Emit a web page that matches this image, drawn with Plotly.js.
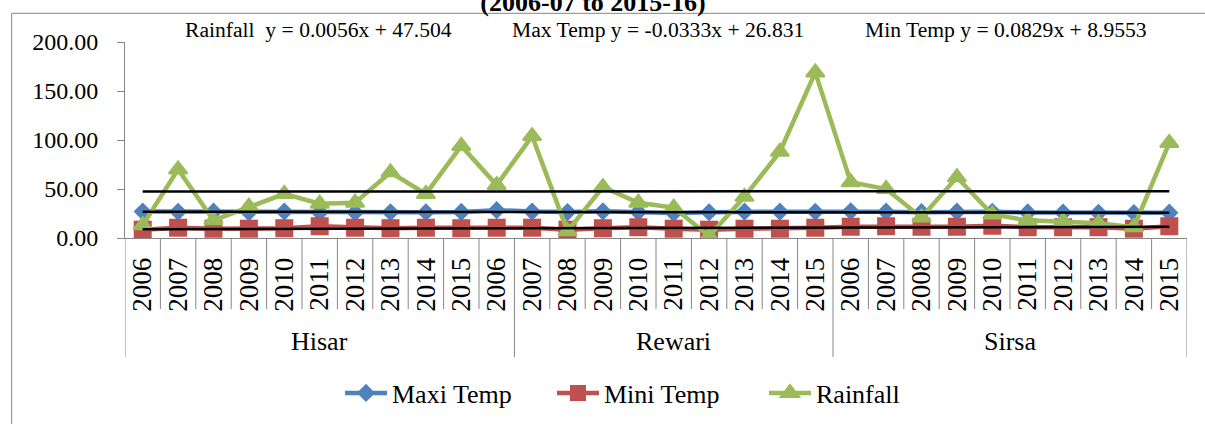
<!DOCTYPE html>
<html><head><meta charset="utf-8">
<script src="https://cdn.plot.ly/plotly-3.0.1.min.js"></script>
<style>html,body{margin:0;padding:0;background:#fff;}#chart{width:1205px;height:424px;}</style>
</head><body><div id="chart"></div>
<script>
// ---- data ----
const districts = ['Hisar', 'Rewari', 'Sirsa'];
const districtSizes = [11, 9, 10];
const yearLabels = ['2006','2007','2008','2009','2010','2011','2012','2013','2014','2015','2006',
                    '2007','2008','2009','2010','2011','2012','2013','2014','2015',
                    '2006','2007','2008','2009','2010','2011','2012','2013','2014','2015'];
const maxiTemp = [27.0,26.8,26.9,26.2,27.0,26.0,26.0,26.3,26.3,26.6,28.4,
                  27.0,26.5,27.2,26.5,25.4,26.3,26.9,26.9,26.8,
                  27.3,26.9,26.4,26.9,26.8,26.1,25.9,25.7,25.5,25.8];
const miniTemp = [8.5,10.5,9.5,9.5,10.0,12.0,10.5,10.0,10.5,10.0,10.5,
                  10.5,8.5,10.0,11.0,9.5,8.5,9.5,9.5,10.5,
                  11.5,12.0,11.5,11.5,12.5,11.0,11.0,11.0,9.5,12.0];
const rainfall = [13,70,18,32,45,35,36,67,45,94,54,
                  104,7,52,36,31,2,42,88,169,
                  57,50,21,62,24,18,17,15,11,97];
const trendLabels = ['Rainfall&nbsp; y = ', 'Max Temp y = ', 'Min Temp y = '];
const trendSlopes = [0.0056, -0.0333, 0.0829];
const trendIntercepts = [47.504, 26.831, 8.9553];
const yTicks = [0, 50, 100, 150, 200];
const chartTitle = '(2006-07 to 2015-16)';

// ---- geometry ----
const W = 1205, H = 424, L = 125, R = 18, T = 42, B = 186;
const pw = W - L - R, ph = H - T - B;
const px2x = p => (p - L) / pw;
const py2y = p => (H - B - p) / ph;
const FONT = '"Liberation Serif", "Times New Roman", Times, serif';
const AX = '#868686';

const xs = yearLabels.map((_, i) => i + 1);
const n = xs.length;

const traces = [
  {x: xs, y: maxiTemp, name: 'Maxi Temp', type: 'scatter', mode: 'lines+markers',
   line: {color: '#4F81BD', width: 4.5}, marker: {symbol: 'diamond', size: 14, color: '#4F81BD'}},
  {x: xs, y: miniTemp, name: 'Mini Temp', type: 'scatter', mode: 'lines+markers',
   line: {color: '#C0504D', width: 4.5}, marker: {symbol: 'square', size: 18, color: '#C0504D'}},
  {x: xs, y: rainfall, name: 'Rainfall', type: 'scatter', mode: 'lines+markers',
   line: {color: '#9BBB59', width: 4.5},
   marker: {symbol: 'triangle-up', size: 16, color: '#9BBB59', line: {color: '#9BBB59', width: 2}}}
];
trendSlopes.forEach((m, k) => {
  const b = trendIntercepts[k];
  traces.push({x: [xs[0], xs[n - 1]], y: [b + m * xs[0], b + m * xs[n - 1]], type: 'scatter', mode: 'lines',
    line: {color: '#000000', width: 2.5}, showlegend: false, hoverinfo: 'skip'});
});

// ---- shapes: category separators and group brackets ----
const shapes = [];
const groupEdges = [0];
districtSizes.forEach(s => groupEdges.push(groupEdges[groupEdges.length - 1] + s));
for (let k = 0; k <= n; k++) {
  const isGroup = groupEdges.indexOf(k) >= 0;
  shapes.push({type: 'line', xref: 'x', yref: 'paper', x0: k + 0.5, x1: k + 0.5,
    y0: 0, y1: py2y(isGroup ? 357 : 309), line: {color: AX, width: 1}});
}
// outer chart frame
shapes.push({type: 'rect', xref: 'paper', yref: 'paper', x0: px2x(11.7), x1: px2x(1220),
  y0: py2y(440), y1: py2y(13.3), line: {color: AX, width: 1}, layer: 'below'});

// ---- annotations ----
const annotations = [];
districts.forEach((d, g) => {
  annotations.push({text: d, xref: 'x', yref: 'paper', x: (groupEdges[g] + groupEdges[g + 1]) / 2 + 0.5,
    y: py2y(341), showarrow: false, xanchor: 'center', yanchor: 'middle',
    font: {family: FONT, size: 26, color: '#000'}});
});
const eqX = [183, 510, 863];
trendLabels.forEach((t, k) => {
  annotations.push({text: t + trendSlopes[k] + 'x + ' + trendIntercepts[k], xref: 'paper', yref: 'paper',
    x: px2x(eqX[k]), y: py2y(30), showarrow: false, xanchor: 'left', yanchor: 'middle',
    font: {family: FONT, size: 21.6, color: '#000'}});
});

const layout = {
  width: W, height: H,
  margin: {l: L, r: R, t: T, b: B},
  paper_bgcolor: '#ffffff', plot_bgcolor: '#ffffff',
  font: {family: FONT, color: '#000'},
  title: {text: '<b>' + chartTitle + '</b>', xref: 'container', yref: 'container',
    x: 593 / W, xanchor: 'center', y: 1 - 11 / H, yanchor: 'bottom',
    font: {family: FONT, size: 26, color: '#000'}},
  showlegend: true,
  legend: {orientation: 'h', xref: 'paper', yref: 'container', x: px2x(340), xanchor: 'left',
    y: 1 - 393 / H, yanchor: 'middle', font: {family: FONT, size: 26, color: '#000'},
    itemwidth: 42, entrywidth: 155, entrywidthmode: 'pixels',
    bgcolor: 'rgba(0,0,0,0)', traceorder: 'normal'},
  xaxis: {type: 'linear', range: [0.5, n + 0.5], showgrid: false, zeroline: false,
    showline: true, linecolor: AX, linewidth: 1, ticks: '',
    tickmode: 'array', tickvals: xs, ticktext: yearLabels, tickangle: -90,
    ticklabelstandoff: 8,
    tickfont: {family: FONT, size: 27, color: '#000'}},
  yaxis: {range: [0, 200], showgrid: false, zeroline: false, showline: true, linecolor: AX, linewidth: 1,
    ticks: 'outside', ticklen: 7, tickcolor: AX, tickmode: 'array', tickvals: yTicks,
    tickformat: '.2f', ticklabelstandoff: 14,
    tickfont: {family: FONT, size: 24, color: '#000'}},
  shapes: shapes, annotations: annotations
};

Plotly.newPlot('chart', traces, layout, {staticPlot: true, displayModeBar: false});
</script></body></html>
